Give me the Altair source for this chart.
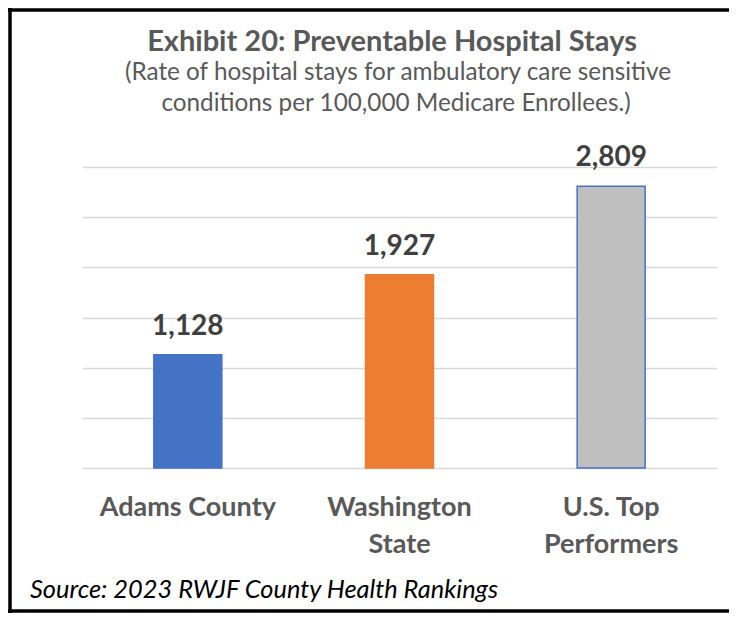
import altair as alt
import pandas as pd

categories = ["Adams County", "Washington State", "U.S. Top Performers"]
values = [1128, 1927, 2809]
bar_colors = ["#4472C4", "#ED7D31", "#BFBFBF"]
bar_strokes = ["#4472C4", "#ED7D31", "#4472C4"]
grid_values = [0, 500, 1000, 1500, 2000, 2500, 3000]
title_text = ["Exhibit 20: Preventable Hospital Stays"]
subtitle_lines = [
    "(Rate of hospital stays for ambulatory care sensitive",
    "conditions per 100,000 Medicare Enrollees.)",
]
source_text = ["Source: 2023 RWJF County Health Rankings"]

FONT = "Lato, sans-serif"

df = pd.DataFrame({"cat": categories, "value": values})

label_expr = (
    "datum.label == 'Washington State' ? ['Washington', 'State'] : "
    "datum.label == 'U.S. Top Performers' ? ['U.S. Top', 'Performers'] : datum.label"
)

x_enc = alt.X(
    "cat:N",
    sort=categories,
    scale=alt.Scale(paddingInner=0, paddingOuter=0),
    axis=alt.Axis(
        title=None,
        domain=False,
        ticks=False,
        tickSize=0,
        grid=False,
        labelAngle=0,
        labelLimit=400,
        labelFont=FONT,
        labelFontSize=27,
        labelFontWeight="bold",
        labelColor="#595959",
        labelBaseline="alphabetic",
        labelPadding=47,
        labelLineHeight=37,
        labelExpr=label_expr,
    ),
)
y_enc = alt.Y(
    "value:Q",
    scale=alt.Scale(domain=[0, 3000], nice=False),
    axis=alt.Axis(
        title=None,
        values=grid_values,
        labels=False,
        ticks=False,
        domain=False,
        grid=True,
        gridColor="#d9d9d9",
        gridWidth=1.5,
    ),
)

base = alt.Chart(df)

bars = base.mark_bar(size=68, strokeWidth=1.5).encode(
    x=x_enc,
    y=y_enc,
    color=alt.Color("cat:N", scale=alt.Scale(domain=categories, range=bar_colors), legend=None),
    stroke=alt.Stroke("cat:N", scale=alt.Scale(domain=categories, range=bar_strokes), legend=None),
)

labels = base.mark_text(
    dy=-20, baseline="alphabetic", font=FONT, fontSize=28, fontWeight="bold", color="#404040"
).encode(
    x=alt.X("cat:N", sort=categories),
    y="value:Q",
    text=alt.Text("value:Q", format=","),
)

title = alt.Chart(pd.DataFrame({"t": title_text})).mark_text(
    align="center", baseline="alphabetic", font=FONT, fontSize=29, fontWeight="bold", color="#595959"
).encode(x=alt.value(310), y=alt.value(-116), text="t:N")

sub1 = alt.Chart(pd.DataFrame({"t": subtitle_lines[:1]})).mark_text(
    align="center", baseline="alphabetic", font=FONT, fontSize=24.3, color="#595959"
).encode(x=alt.value(316), y=alt.value(-87), text="t:N")

sub2 = alt.Chart(pd.DataFrame({"t": subtitle_lines[1:]})).mark_text(
    align="center", baseline="alphabetic", font=FONT, fontSize=24.3, color="#595959"
).encode(x=alt.value(314), y=alt.value(-56), text="t:N")

source = alt.Chart(pd.DataFrame({"t": source_text})).mark_text(
    align="left", baseline="alphabetic", font=FONT, fontSize=25.4, fontStyle="italic", color="#000000"
).encode(x=alt.value(-52), y=alt.value(431), text="t:N")

border_top = alt.Chart(pd.DataFrame({"k": [0]})).mark_rule(color="#000000", strokeWidth=3.5).encode(
    x=alt.value(-74), x2=alt.value(700), y=alt.value(-157)
)
border_bottom = alt.Chart(pd.DataFrame({"k": [0]})).mark_rule(color="#000000", strokeWidth=3.5).encode(
    x=alt.value(-74), x2=alt.value(700), y=alt.value(444)
)
border_left = alt.Chart(pd.DataFrame({"k": [0]})).mark_rule(color="#000000", strokeWidth=3.5).encode(
    x=alt.value(-72), y=alt.value(-159), y2=alt.value(446)
)

chart = (
    alt.layer(bars, labels, title, sub1, sub2, source, border_top, border_bottom, border_left)
    .properties(
        width=635,
        height=301,
        background="#ffffff",
        autosize=alt.AutoSizeParams(type="none"),
        padding={"left": 74, "top": 159, "right": 12, "bottom": 145},
    )
    .configure_view(strokeWidth=0, stroke="transparent")
)

chart.save("out.html", embed_options={"renderer": "svg", "actions": False})
